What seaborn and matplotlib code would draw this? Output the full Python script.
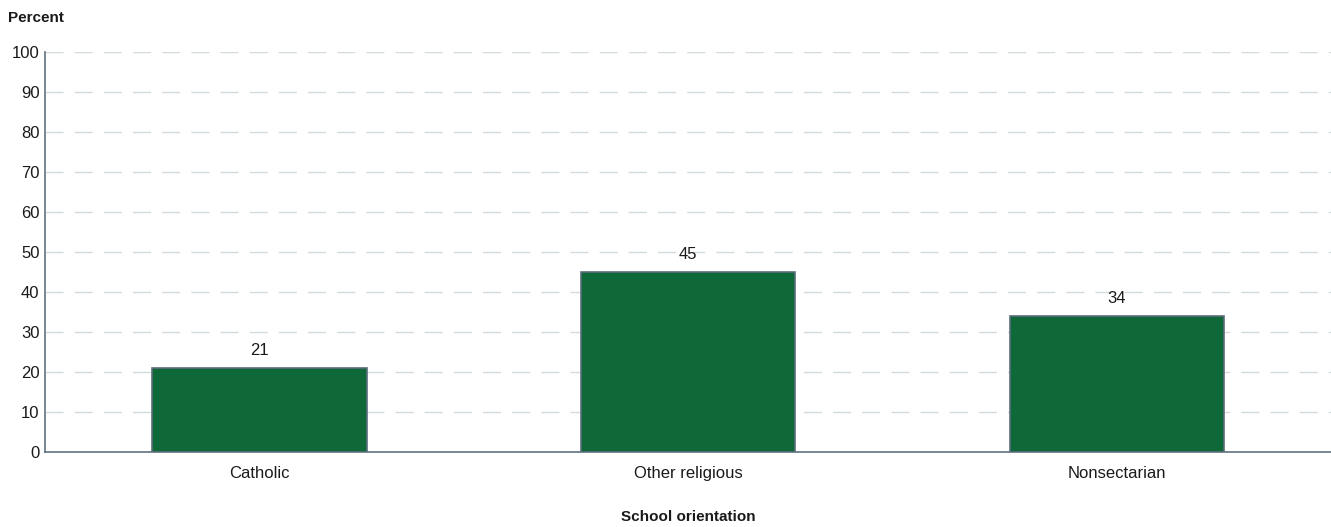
import matplotlib
matplotlib.use("Agg")
import matplotlib.pyplot as plt
import seaborn as sns
import pandas as pd

categories = ["Catholic", "Other religious", "Nonsectarian"]
percent = [21, 45, 34]
y_ticks = [0, 10, 20, 30, 40, 50, 60, 70, 80, 90, 100]

sns.set_theme(style="white")
plt.rcParams["font.family"] = ["Liberation Sans", "DejaVu Sans"]

df = pd.DataFrame({"orientation": categories, "percent": percent})

fig = plt.figure(figsize=(13.31, 5.27), dpi=100)
ax = fig.add_axes([45 / 1331, 1 - 452 / 527, 1 - 45 / 1331, 400 / 527])

sns.barplot(data=df, x="orientation", y="percent", color="#0e6838",
            width=0.5, edgecolor="#5b6e7c", linewidth=1.2, saturation=1,
            ax=ax, zorder=3)

ax.set_xlim(-0.5, 2.5)
ax.set_ylim(0, 100)
ax.set_yticks(y_ticks)
ax.set_yticklabels([str(t) for t in y_ticks], fontsize=12, color="#1a1a1a")
ax.tick_params(axis="x", labelsize=12, colors="#1a1a1a", length=0, pad=10)
ax.tick_params(axis="y", length=0, pad=4)

ax.yaxis.grid(True, color="#d3dade", linestyle=(0, (13, 8)), linewidth=1)
ax.set_axisbelow(True)

for side in ["top", "right"]:
    ax.spines[side].set_visible(False)
for side in ["left", "bottom"]:
    ax.spines[side].set_color("#5f7282")
    ax.spines[side].set_linewidth(1.2)

for i, v in enumerate(percent):
    ax.text(i, v + 2.5, f"{v}", ha="center", va="bottom", fontsize=12,
            color="#1a1a1a")

ax.set_ylabel("")
ax.set_xlabel("")
fig.text(688 / 1331, 1 - 517 / 527, "School orientation", fontsize=11,
         fontweight="bold", color="#1a1a1a", ha="center", va="center")
fig.text(8 / 1331, 1 - 18 / 527, "Percent", fontsize=11, fontweight="bold",
         color="#1a1a1a", ha="left", va="center")

fig.savefig("out.png", dpi=100)
